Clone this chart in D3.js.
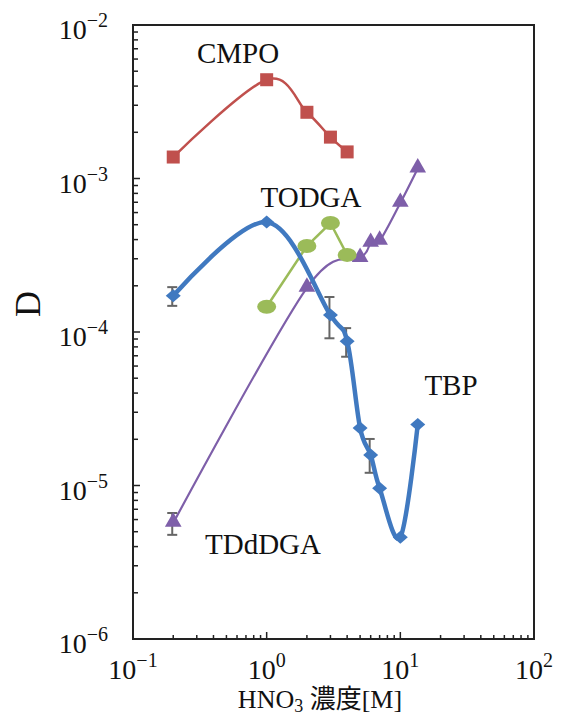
<!DOCTYPE html>
<meta charset="utf-8">
<style>
body { margin: 0; background: #fff; }
text { font-family: "Liberation Serif", "Noto Sans CJK JP", serif; fill: #111; }
</style>
<svg width="568" height="713"></svg>
<script src="https://cdn.jsdelivr.net/npm/d3@7"></script>
<script>

// HNO3 concentration (M) and distribution ratio D for each extractant
var cmpoX = [0.2, 1, 2, 3, 4],
    cmpoD = [1.38e-3, 4.4e-3, 2.7e-3, 1.86e-3, 1.49e-3];

var tbpX = [0.2, 1, 3, 4, 5, 6, 7, 10, 13.5],
    tbpD = [1.72e-4, 5.2e-4, 1.29e-4, 8.7e-5, 2.37e-5, 1.58e-5, 9.6e-6, 4.6e-6, 2.5e-5];

var tbpErrX = [0.2, 3, 4, 6],
    tbpErrLo = [1.48e-4, 9.1e-5, 6.9e-5, 1.21e-5],
    tbpErrHi = [1.96e-4, 1.69e-4, 1.06e-4, 2.01e-5];

var todgaX = [1, 2, 3, 4],
    todgaD = [1.46e-4, 3.63e-4, 5.13e-4, 3.18e-4];

var tddX = [0.2, 2, 5, 6, 7, 10, 13.5],
    tddD = [5.7e-6, 1.94e-4, 3.03e-4, 3.8e-4, 3.92e-4, 6.92e-4, 1.16e-3];

var tddErrX = [0.2],
    tddErrLo = [4.77e-6],
    tddErrHi = [6.62e-6];

var xTicks = [0.1, 1, 10, 100],
    xTickExp = ["\u22121", "0", "1", "2"];
var yTicks = [1e-6, 1e-5, 1e-4, 1e-3, 1e-2],
    yTickExp = ["\u22126", "\u22125", "\u22124", "\u22123", "\u22122"];

var svg = d3.select("svg"),
    pLeft = 133, pRight = 534, pTop = 25, pBottom = 639;

var x = d3.scaleLog().domain([0.1, 100]).range([pLeft, pRight]),
    y = d3.scaleLog().domain([1e-6, 1e-2]).range([pBottom, pTop]);

var zip = function(xs, ys) { return xs.map(function(v, i) { return [v, ys[i]]; }); };

// minor ticks, pointing inwards
var xMinor = [], yMinor = [];
[0.1, 1, 10].forEach(function(b) { d3.range(2, 10).forEach(function(m) { xMinor.push(b * m); }); });
[1e-6, 1e-5, 1e-4, 1e-3].forEach(function(b) { d3.range(2, 10).forEach(function(m) { yMinor.push(b * m); }); });

var ticks = svg.append("g").attr("stroke", "#222").attr("stroke-width", 1.5);
ticks.selectAll(".xm").data(xMinor).enter().append("line")
    .attr("x1", function(d) { return x(d); }).attr("x2", function(d) { return x(d); })
    .attr("y1", pBottom).attr("y2", pBottom - 4);
ticks.selectAll(".xM").data(xTicks).enter().append("line")
    .attr("x1", function(d) { return x(d); }).attr("x2", function(d) { return x(d); })
    .attr("y1", pBottom).attr("y2", pBottom - 7);
ticks.selectAll(".ym").data(yMinor).enter().append("line")
    .attr("y1", function(d) { return y(d); }).attr("y2", function(d) { return y(d); })
    .attr("x1", pLeft).attr("x2", pLeft + 5);
ticks.selectAll(".yM").data(yTicks).enter().append("line")
    .attr("y1", function(d) { return y(d); }).attr("y2", function(d) { return y(d); })
    .attr("x1", pLeft).attr("x2", pLeft + 7);

svg.append("rect")
    .attr("x", pLeft).attr("y", pTop)
    .attr("width", pRight - pLeft).attr("height", pBottom - pTop)
    .attr("fill", "none").attr("stroke", "#222").attr("stroke-width", 2);

// tick labels
var xl = svg.selectAll(".xl").data(xTicks).enter().append("text")
    .attr("x", function(d) { return x(d); }).attr("y", 679)
    .attr("text-anchor", "middle").style("font-size", "28px");
xl.append("tspan").text("10");
xl.append("tspan").attr("dy", -12).style("font-size", "20px")
    .text(function(d, i) { return xTickExp[i]; });

var yl = svg.selectAll(".yl").data(yTicks).enter().append("text")
    .attr("x", 108).attr("y", function(d) { return y(d) + 14; })
    .attr("text-anchor", "end").style("font-size", "28px");
yl.append("tspan").text("10");
yl.append("tspan").attr("dy", -12).style("font-size", "20px")
    .text(function(d, i) { return yTickExp[i]; });

// axis titles
svg.append("text")
    .attr("transform", "translate(40,304) rotate(-90)")
    .attr("text-anchor", "middle").style("font-size", "36px")
    .text("D");

var xt = svg.append("text")
    .attr("x", 320).attr("y", 708)
    .attr("text-anchor", "middle").style("font-size", "26px");
xt.append("tspan").text("HNO");
xt.append("tspan").attr("dy", 4).style("font-size", "18px").text("3");
xt.append("tspan").attr("dy", -4).text(" \u6fc3\u5ea6[M]");

var line = d3.line()
    .x(function(d) { return x(d[0]); })
    .y(function(d) { return y(d[1]); });
var smooth = d3.line()
    .x(function(d) { return x(d[0]); })
    .y(function(d) { return y(d[1]); })
    .curve(d3.curveCatmullRom.alpha(0));

function errorBars(xs, lo, hi) {
  var g = svg.append("g").attr("stroke", "#666").attr("stroke-width", 2);
  xs.forEach(function(v, i) {
    var cx = x(v) - 1;
    g.append("line").attr("x1", cx).attr("x2", cx).attr("y1", y(lo[i])).attr("y2", y(hi[i]));
    g.append("line").attr("x1", cx - 5).attr("x2", cx + 5).attr("y1", y(lo[i])).attr("y2", y(lo[i]));
    g.append("line").attr("x1", cx - 5).attr("x2", cx + 5).attr("y1", y(hi[i])).attr("y2", y(hi[i]));
  });
}

// CMPO
var red = "#c0504d";
svg.append("path").datum(zip(cmpoX, cmpoD)).attr("d", smooth)
    .attr("fill", "none").attr("stroke", red).attr("stroke-width", 2.5);
svg.selectAll(".cmpo").data(zip(cmpoX, cmpoD)).enter().append("rect")
    .attr("x", function(d) { return x(d[0]) - 6.5; })
    .attr("y", function(d) { return y(d[1]) - 6.5; })
    .attr("width", 13).attr("height", 13).attr("fill", red);

// TDdDGA
var purple = "#7e5fa9";
svg.append("path").datum(zip(tddX, tddD)).attr("d", smooth)
    .attr("fill", "none").attr("stroke", purple).attr("stroke-width", 2.2);
errorBars(tddErrX, tddErrLo, tddErrHi);
svg.selectAll(".tdd").data(zip(tddX, tddD)).enter().append("path")
    .attr("transform", function(d) { return "translate(" + x(d[0]) + "," + (y(d[1]) - 1) + ")"; })
    .attr("d", d3.symbol().type(d3.symbolTriangle).size(120))
    .attr("fill", purple);

// TODGA
var green = "#9bbb59";
svg.append("path").datum(zip(todgaX, todgaD)).attr("d", line)
    .attr("fill", "none").attr("stroke", green).attr("stroke-width", 2.5);
svg.selectAll(".todga").data(zip(todgaX, todgaD)).enter().append("ellipse")
    .attr("cx", function(d) { return x(d[0]); })
    .attr("cy", function(d) { return y(d[1]); })
    .attr("rx", 9.5).attr("ry", 7).attr("fill", green);

// TBP
var blue = "#4079c0";
errorBars(tbpErrX, tbpErrLo, tbpErrHi);
svg.append("path").datum(zip(tbpX, tbpD)).attr("d", smooth)
    .attr("fill", "none").attr("stroke", blue).attr("stroke-width", 4.5);
svg.selectAll(".tbp").data(zip(tbpX, tbpD)).enter().append("path")
    .attr("transform", function(d) { return "translate(" + x(d[0]) + "," + y(d[1]) + ")"; })
    .attr("d", "M0,-6.5L7.5,0L0,6.5L-7.5,0Z")
    .attr("fill", blue);

// series labels
var labels = [
  {t: "CMPO", x: 238, y: 63},
  {t: "TODGA", x: 311, y: 207},
  {t: "TBP", x: 451, y: 395},
  {t: "TDdDGA", x: 263, y: 554}
];
svg.selectAll(".lab").data(labels).enter().append("text")
    .attr("x", function(d) { return d.x; }).attr("y", function(d) { return d.y; })
    .attr("text-anchor", "middle").style("font-size", "29px")
    .text(function(d) { return d.t; });

</script>
